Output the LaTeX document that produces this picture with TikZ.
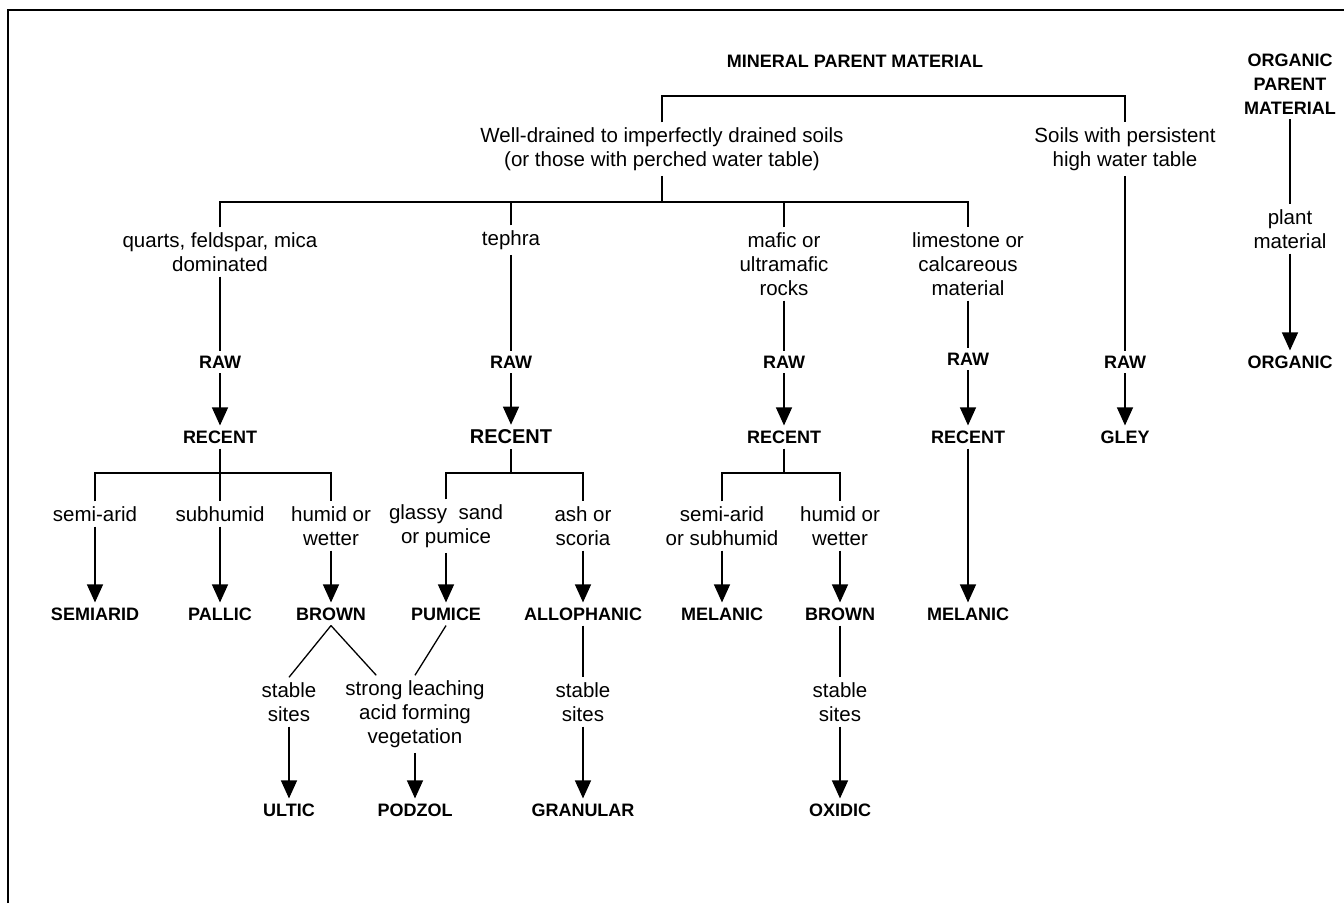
\documentclass[tikz,border=0pt]{standalone}
\usepackage{fontspec}
\setmainfont{Liberation Sans}
\usetikzlibrary{arrows.meta}

\begin{document}
\begin{tikzpicture}[x = 1pt, y = -1pt]
\tikzstyle{textStyle} = [align = center, inner sep = 5pt, font = \fontsize{20.5}{24}\selectfont]
\tikzstyle{soilStyle} = [align = center, inner sep = 5pt, font = \fontsize{18}{24}\selectfont\bfseries]
\tikzstyle{bigSoilStyle} = [soilStyle, font = \fontsize{20}{24}\selectfont\bfseries]
\tikzstyle{EdgeStyle} = [line width = 1.3pt]
\tikzstyle{ArrowStyle} = [line width = 1.3pt, -{Triangle[width = 16pt, length = 18pt]}]
\useasboundingbox (0,0) rectangle (1344,903);
\draw[line width = 1.5pt] (8,903) -- (8,10) -- (1344,10);
% parent material
\node[soilStyle] (mpm) at (855,61) {MINERAL PARENT MATERIAL};
\node[soilStyle] (opm) at (1290,84) {ORGANIC\\PARENT\\MATERIAL};
\node[textStyle] (wd) at (662,149) {Well-drained to imperfectly drained soils\\(or those with perched water table)};
\node[textStyle] (hw) at (1125,149) {Soils with persistent\\high water table};
\node[textStyle] (q) at (220,252) {quarts, feldspar, mica\\dominated};
\node[textStyle] (t) at (511,240) {tephra};
\node[textStyle] (mu) at (784,264) {mafic or\\ultramafic\\rocks};
\node[textStyle] (lc) at (968,264) {limestone or\\calcareous\\material};
\node[textStyle] (pl) at (1290,229) {plant\\material};
% raw and recent
\node[soilStyle] (raw1) at (220,362) {RAW};
\node[soilStyle] (raw2) at (511,362) {RAW};
\node[soilStyle] (raw3) at (784,362) {RAW};
\node[soilStyle] (raw4) at (968,359) {RAW};
\node[soilStyle] (raw5) at (1125,362) {RAW};
\node[soilStyle] (org) at (1290,362) {ORGANIC};
\node[soilStyle] (rec1) at (220,437) {RECENT};
\node[bigSoilStyle] (rec2) at (511,437) {RECENT};
\node[soilStyle] (rec3) at (784,437) {RECENT};
\node[soilStyle] (rec4) at (968,437) {RECENT};
\node[soilStyle] (gley) at (1125,437) {GLEY};
% climate and tephra type
\node[textStyle] (sa1) at (95,514) {semi-arid};
\node[textStyle] (sh1) at (220,514) {subhumid};
\node[textStyle] (hu1) at (331,526) {humid or\\wetter};
\node[textStyle] (gs) at (446,526) {glassy\ \ sand\\or pumice};
\node[textStyle] (as) at (583,526) {ash or\\scoria};
\node[textStyle] (sa2) at (722,526) {semi-arid\\or subhumid};
\node[textStyle] (hu2) at (840,526) {humid or\\wetter};
% soil orders
\node[soilStyle] (semi) at (95,614) {SEMIARID};
\node[soilStyle] (pal) at (220,614) {PALLIC};
\node[soilStyle] (br1) at (331,614) {BROWN};
\node[soilStyle] (pum) at (446,614) {PUMICE};
\node[soilStyle] (allo) at (583,614) {ALLOPHANIC};
\node[soilStyle] (mel1) at (722,614) {MELANIC};
\node[soilStyle] (br2) at (840,614) {BROWN};
\node[soilStyle] (mel2) at (968,614) {MELANIC};
\node[textStyle] (st1) at (289,702) {stable\\sites};
\node[textStyle] (sl) at (415,714) {strong leaching\\acid forming\\vegetation};
\node[textStyle] (st2) at (583,702) {stable\\sites};
\node[textStyle] (st3) at (840,702) {stable\\sites};
\node[soilStyle] (ult) at (289,810) {ULTIC};
\node[soilStyle] (pod) at (415,810) {PODZOL};
\node[soilStyle] (gran) at (583,810) {GRANULAR};
\node[soilStyle] (oxi) at (840,810) {OXIDIC};
% bracket points
\coordinate (b1) at (855,96);
\coordinate (b2) at (662,202);
\coordinate (c1) at (220,473);
\coordinate (c2) at (511,473);
\coordinate (c3) at (784,473);
% edges
\draw[EdgeStyle] (wd) |- (b1) -| (hw);
\draw[EdgeStyle] (wd) -- (b2);
\draw[EdgeStyle] (q) |- (b2) -| (lc);
\draw[EdgeStyle] (t) -- (t |- b2);
\draw[EdgeStyle] (mu) -- (mu |- b2);
\draw[EdgeStyle] (q) -- (raw1);
\draw[EdgeStyle] (t) -- (raw2);
\draw[EdgeStyle] (mu) -- (raw3);
\draw[EdgeStyle] (lc) -- (raw4);
\draw[EdgeStyle] (hw) -- (raw5);
\draw[EdgeStyle] (opm) -- (pl);
\draw[ArrowStyle] (pl) -- (org);
\draw[ArrowStyle] (raw1) -- (rec1);
\draw[ArrowStyle] (raw2) -- (rec2);
\draw[ArrowStyle] (raw3) -- (rec3);
\draw[ArrowStyle] (raw4) -- (rec4);
\draw[ArrowStyle] (raw5) -- (gley);
\draw[EdgeStyle] (rec1) -- (sh1);
\draw[EdgeStyle] (sa1) |- (c1) -| (hu1);
\draw[EdgeStyle] (rec2) -- (c2);
\draw[EdgeStyle] (gs) |- (c2) -| (as);
\draw[EdgeStyle] (rec3) -- (c3);
\draw[EdgeStyle] (sa2) |- (c3) -| (hu2);
\draw[ArrowStyle] (sa1) -- (semi);
\draw[ArrowStyle] (sh1) -- (pal);
\draw[ArrowStyle] (hu1) -- (br1);
\draw[ArrowStyle] (gs) -- (pum);
\draw[ArrowStyle] (as) -- (allo);
\draw[ArrowStyle] (sa2) -- (mel1);
\draw[ArrowStyle] (hu2) -- (br2);
\draw[ArrowStyle] (rec4) -- (mel2);
\draw[EdgeStyle] (br1.south) -- (st1.north);
\draw[EdgeStyle] (br1.south) -- (sl.135);
\draw[EdgeStyle] (pum.south) -- (sl.north);
\draw[EdgeStyle] (allo) -- (st2);
\draw[EdgeStyle] (br2) -- (st3);
\draw[ArrowStyle] (st1) -- (ult);
\draw[ArrowStyle] (sl) -- (pod);
\draw[ArrowStyle] (st2) -- (gran);
\draw[ArrowStyle] (st3) -- (oxi);
\end{tikzpicture}
\end{document}
